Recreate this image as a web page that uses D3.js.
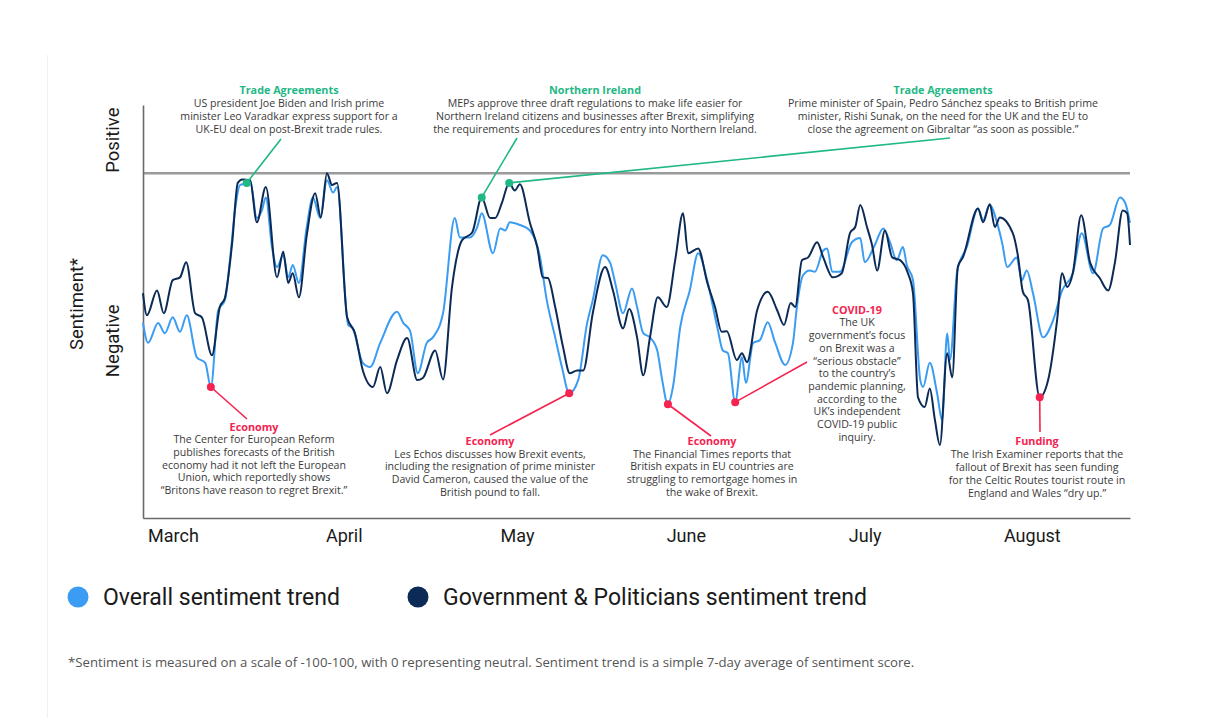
<!DOCTYPE html>
<html>
<head>
<meta charset="utf-8">
<script src="https://cdn.jsdelivr.net/npm/d3@7"></script>
<style>
  html, body { margin: 0; padding: 0; background: #fff; }
  svg { display: block; }
</style>
</head>
<body>
<svg id="chart" width="1206" height="723"></svg>
<script>
// ---------------- DATA ----------------
// x: day offset from start of March, y: sentiment score (0 = neutral line)
const monthLabels = ["March", "April", "May", "June", "July", "August"];
const monthTickDays = [5.35, 35.8, 66.7, 96.8, 128.7, 158.5];

const overallDays = [0,0.9,2.7,3.9,5.3,6.6,7.8,9.6,11.1,12.1,13.4,14.6,15.5,16.4,17.3,18.5,19.1,20.3,21.2,21.9,23.0,23.9,25.0,25.9,26.7,27.8,29.2,30.3,31.6,32.8,33.9,34.6,36.6,37.4,39.2,40.5,42.3,45.3,46.4,47.6,49.0,50.6,51.7,53.5,55.6,56.5,58.3,59.6,60.4,62.4,63.7,64.6,65.4,67.2,69.0,70.8,72.0,73.5,74.7,76.0,77.6,79.2,80.2,82.0,83.3,84.2,85.6,87.2,88.1,89.2,90.4,91.7,92.5,93.6,94.5,95.8,97.5,99.0,100.6,102.4,103.4,104.3,105.6,106.8,107.5,108.8,110.0,111.4,112.7,114.5,115.9,116.6,117.7,118.9,119.8,121.3,122.0,122.9,124.3,126.4,127.9,128.7,130.5,132.0,133.2,134.4,135.5,136.2,137.3,138.6,139.1,140.3,141.6,142.5,143.4,143.9,145.2,146.9,148.9,149.8,151.0,152.3,153.2,154.1,155.8,156.7,157.6,158.7,160.5,162.3,163.9,165.8,167.4,169.4,171.2,172.4,174.2,175.1,176.0];
const overallValues = [-21.7,-24.6,-21.7,-23.2,-20.9,-23.0,-20.6,-26.7,-27.5,-31.0,-19.9,-18.4,-12.6,-5.4,-1.7,-1.4,-1.0,-6.5,-5.4,-3.5,-10.7,-13.6,-11.9,-15.1,-13.3,-15.9,-7.8,-3.5,-6.5,-1.0,-2.8,-2.0,-22.0,-22.5,-27.5,-28.1,-24.6,-20.1,-21.7,-22.8,-29.0,-24.6,-23.8,-20.3,-6.5,-9.3,-9.3,-7.8,-5.8,-11.6,-8.0,-8.3,-7.1,-7.5,-8.3,-12.2,-18.4,-23.8,-28.1,-31.9,-30.0,-21.7,-18.4,-11.9,-13.0,-15.9,-20.3,-16.7,-19.4,-23.2,-23.8,-25.7,-29.6,-33.5,-31.0,-22.3,-17.0,-11.6,-15.5,-22.3,-25.7,-26.1,-33.2,-26.7,-30.4,-24.6,-24.2,-21.6,-24.5,-27.8,-24.6,-19.4,-14.8,-14.1,-14.3,-11.2,-10.9,-14.3,-14.3,-10.0,-9.4,-12.9,-10.4,-8.0,-10.0,-12.6,-10.7,-13.3,-15.5,-30.0,-31.0,-27.5,-31.9,-35.8,-23.2,-27.1,-14.1,-10.7,-5.1,-6.8,-4.6,-7.2,-10.1,-13.6,-12.2,-15.5,-14.1,-17.4,-23.8,-21.3,-17.0,-14.5,-8.7,-14.5,-8.0,-7.5,-3.5,-4.2,-7.2];

const govDays = [0,0.7,2.5,3.7,5.3,6.6,7.7,9.3,10.5,12.3,13.7,14.6,15.9,16.9,17.7,19.1,20.3,21.9,23.9,25.0,25.9,26.7,27.8,29.2,30.7,31.7,32.8,33.7,34.6,36.4,37.8,39.2,41.0,42.3,43.5,45.3,47.1,48.9,49.9,52.1,53.5,55.1,56.9,58.7,60.4,61.9,62.8,64.0,65.3,66.3,67.2,69.0,70.3,71.3,72.2,73.5,74.9,76.1,77.4,78.5,80.2,82.4,83.8,85.6,86.7,88.1,89.2,90.4,91.8,93.4,94.9,96.3,97.2,99.0,100.6,102.0,103.2,104.1,105.9,106.8,107.7,109.5,111.4,113.1,114.3,115.5,116.3,117.5,118.6,120.2,121.3,123.0,124.6,126.1,127.0,127.9,129.1,130.0,130.9,132.3,133.6,135.0,136.4,137.3,138.2,139.4,140.3,141.2,142.1,143.4,144.3,145.3,146.2,148.9,149.8,151.0,151.9,152.8,155.1,156.0,156.9,157.8,159.9,161.4,163.0,163.9,164.8,165.8,167.3,168.9,170.6,172.1,173.3,174.7,175.5,176.0];
const govValues = [-17.4,-20.6,-17.0,-20.3,-15.5,-15.1,-12.9,-20.3,-20.9,-26.4,-19.4,-18.1,-10.1,-1.4,-0.9,-1.0,-7.1,-2.0,-15.1,-11.4,-15.9,-14.5,-18.0,-9.0,-2.9,-6.4,0,-1.7,-1.4,-20.9,-23.2,-28.6,-31.0,-28.1,-31.9,-27.1,-23.9,-30.0,-29.7,-25.7,-29.9,-16.5,-9.7,-8.6,-3.5,-6.5,-6.5,-4.3,-1.4,-2.5,-1.6,-7.2,-10.7,-15.1,-15.2,-19.4,-25.2,-29.0,-28.6,-28.6,-20.3,-13.6,-17.0,-22.5,-19.7,-23.8,-29.3,-23.8,-18.0,-19.4,-12.6,-5.8,-11.6,-10.9,-15.8,-19.4,-23.0,-22.9,-27.1,-26.1,-27.4,-19.9,-17.2,-19.9,-22.0,-18.8,-19.4,-12.6,-12.2,-10.0,-12.2,-15.1,-14.5,-8.6,-7.8,-4.6,-7.8,-10.4,-14.1,-8.3,-12.2,-12.6,-14.5,-17.4,-32.5,-33.9,-31.2,-35.7,-39.4,-26.1,-29.6,-13.6,-12.2,-5.1,-7.1,-4.5,-7.8,-6.4,-8.7,-11.9,-17.2,-18.4,-32.5,-30.0,-21.3,-14.5,-16.5,-14.5,-6.1,-13.0,-15.2,-17.0,-13.0,-5.4,-5.8,-10.4];

const seriesNames = ["Overall sentiment trend", "Government & Politicians sentiment trend"];

const annotationTitles = ["Trade Agreements", "Northern Ireland", "Trade Agreements", "Economy", "Economy", "Economy", "COVID-19", "Funding"];
const annotationKinds = ["pos", "pos", "pos", "neg", "neg", "neg", "neg", "neg"];
const annotationSeries = [0, 1, 1, 0, 0, 0, 0, 1];
const annotationDays = [18.5, 60.4, 65.3, 12.1, 76.0, 93.6, 105.6, 159.9];
const annotationTexts = [
  ["US president Joe Biden and Irish prime", "minister Leo Varadkar express support for a", "UK-EU deal on post-Brexit trade rules."],
  ["MEPs approve three draft regulations to make life easier for", "Northern Ireland citizens and businesses after Brexit, simplifying", "the requirements and procedures for entry into Northern Ireland."],
  ["Prime minister of Spain, Pedro S\u00e1nchez speaks to British prime", "minister, Rishi Sunak, on the need for the UK and the EU to", "close the agreement on Gibraltar \u201cas soon as possible.\u201d"],
  ["The Center for European Reform", "publishes forecasts of the British", "economy had it not left the European", "Union, which reportedly shows", "\u201cBritons have reason to regret Brexit.\u201d"],
  ["Les Echos discusses how Brexit events,", "including the resignation of prime minister", "David Cameron, caused the value of the", "British pound to fall."],
  ["The Financial Times reports that", "British expats in EU countries are", "struggling to remortgage homes in", "the wake of Brexit."],
  ["The UK", "government\u2019s focus", "on Brexit was a", "\u201cserious obstacle\u201d", "to the country\u2019s", "pandemic planning,", "according to the", "UK\u2019s independent", "COVID-19 public", "inquiry."],
  ["The Irish Examiner reports that the", "fallout of Brexit has seen funding", "for the Celtic Routes tourist route in", "England and Wales \u201cdry up.\u201d"]
];

// ---------------- LAYOUT (not data) ----------------
const W = 1206, H = 723;
const colors = { overall: "#3a9cf2", gov: "#0c2a56", pos: "#1fb886", neg: "#f5234f", text: "#3a3a3a" };
const annFont = "'Open Sans', sans-serif";
// label block centre x, title y, line step, leader end point
const annotationLayout = [
  { cx: 289, ty: 90, step: 13, lx: 281, ly: 139 },
  { cx: 595, ty: 90, step: 13, lx: 517, ly: 138 },
  { cx: 943, ty: 90, step: 13, lx: 950, ly: 138 },
  { cx: 254, ty: 427, step: 12.6, lx: 247, ly: 419 },
  { cx: 490, ty: 441, step: 12.8, lx: 490, ly: 435 },
  { cx: 712, ty: 441, step: 12.8, lx: 711, ly: 436 },
  { cx: 857, ty: 310, step: 12.7, lx: 807, ly: 362 },
  { cx: 1037, ty: 441, step: 13, lx: 1040, ly: 432 }
];

const svg = d3.select("#chart");

const x = d3.scaleLinear().domain([0, 176]).range([143, 1130]);
const y = d3.scaleLinear().domain([-50, 9.9]).range([518, 105]);

// faint page border
svg.append("line").attr("x1", 47.5).attr("x2", 47.5).attr("y1", 55).attr("y2", 718)
  .attr("stroke", "#eef0f4").attr("stroke-width", 1);

// neutral line
svg.append("line")
  .attr("x1", x(0)).attr("x2", x(176))
  .attr("y1", y(0)).attr("y2", y(0))
  .attr("stroke", "#9a9a9a").attr("stroke-width", 2.5);

// axes
const xAxis = d3.axisBottom(x).tickValues(monthTickDays)
  .tickFormat((d, i) => monthLabels[i]).tickSize(0).tickPadding(11);
const gx = svg.append("g").attr("transform", `translate(0,${y(-50)})`).call(xAxis);
gx.select(".domain").attr("stroke", "#6a6a6a").attr("stroke-width", 1.6);
gx.selectAll("text").attr("font-family", "Roboto, sans-serif").attr("font-size", 18).attr("fill", "#1a1a1a");

const yAxis = d3.axisLeft(y).tickValues([]).tickSizeOuter(0);
const gy = svg.append("g").attr("transform", `translate(${x(0)},0)`).call(yAxis);
gy.select(".domain").attr("stroke", "#6a6a6a").attr("stroke-width", 1.6);

// axis labels
function vlabel(txt, cx, cy, size) {
  svg.append("text").attr("transform", `translate(${cx},${cy}) rotate(-90)`)
    .attr("text-anchor", "middle").attr("dy", "0.35em")
    .attr("font-family", "Roboto, sans-serif").attr("font-size", size).attr("fill", "#1a1a1a")
    .text(txt);
}
vlabel("Positive", 113, y(4.8), 18.5);
vlabel("Negative", 113, y(-24.3), 18.5);
vlabel("Sentiment*", 77, 304, 18.5);

// lines
const line = d3.line().x(d => x(d[0])).y(d => y(d[1])).curve(d3.curveMonotoneX);
const overall = overallDays.map((d, i) => [d, overallValues[i]]);
const gov = govDays.map((d, i) => [d, govValues[i]]);
const allSeries = [overall, gov];

svg.append("path").datum(overall).attr("d", line).attr("fill", "none")
  .attr("stroke", colors.overall).attr("stroke-width", 2).attr("stroke-linejoin", "round");
svg.append("path").datum(gov).attr("d", line).attr("fill", "none")
  .attr("stroke", colors.gov).attr("stroke-width", 2).attr("stroke-linejoin", "round");

// annotations
annotationTitles.forEach((title, i) => {
  const L = annotationLayout[i];
  const col = annotationKinds[i] === "pos" ? colors.pos : colors.neg;
  const s = allSeries[annotationSeries[i]];
  const pt = s.find(p => Math.abs(p[0] - annotationDays[i]) < 1e-6);
  const px = x(pt[0]), py = y(pt[1]);
  svg.append("line").attr("x1", px).attr("y1", py).attr("x2", L.lx).attr("y2", L.ly)
    .attr("stroke", col).attr("stroke-width", 1.6);
  svg.append("circle").attr("cx", px).attr("cy", py).attr("r", 4).attr("fill", col);

  svg.append("text").attr("x", L.cx).attr("y", L.ty).attr("dy", "0.35em")
    .attr("text-anchor", "middle").attr("font-family", annFont)
    .attr("font-weight", "bold").attr("font-size", 10.8).attr("fill", col).text(title);
  annotationTexts[i].forEach((t, j) => {
    svg.append("text").attr("x", L.cx).attr("y", L.ty + L.step * (j + 1)).attr("dy", "0.35em")
      .attr("text-anchor", "middle").attr("font-family", annFont)
      .attr("font-size", 10.6).attr("fill", colors.text).text(t);
  });
});

// legend
const legendX = [78, 418];
const legendCols = [colors.overall, colors.gov];
seriesNames.forEach((n, i) => {
  svg.append("circle").attr("cx", legendX[i]).attr("cy", 597).attr("r", 10.5).attr("fill", legendCols[i]);
  svg.append("text").attr("x", legendX[i] + 25).attr("y", 597).attr("dy", "0.35em")
    .attr("font-family", "Roboto, sans-serif").attr("font-size", 23).attr("fill", "#1a1a1a").text(n);
});

// footnote
svg.append("text").attr("x", 68).attr("y", 662).attr("dy", "0.35em")
  .attr("font-family", annFont).attr("font-size", 13.2).attr("fill", "#555")
  .text("*Sentiment is measured on a scale of -100-100, with 0 representing neutral. Sentiment trend is a simple 7-day average of sentiment score.");
</script>
</body>
</html>
